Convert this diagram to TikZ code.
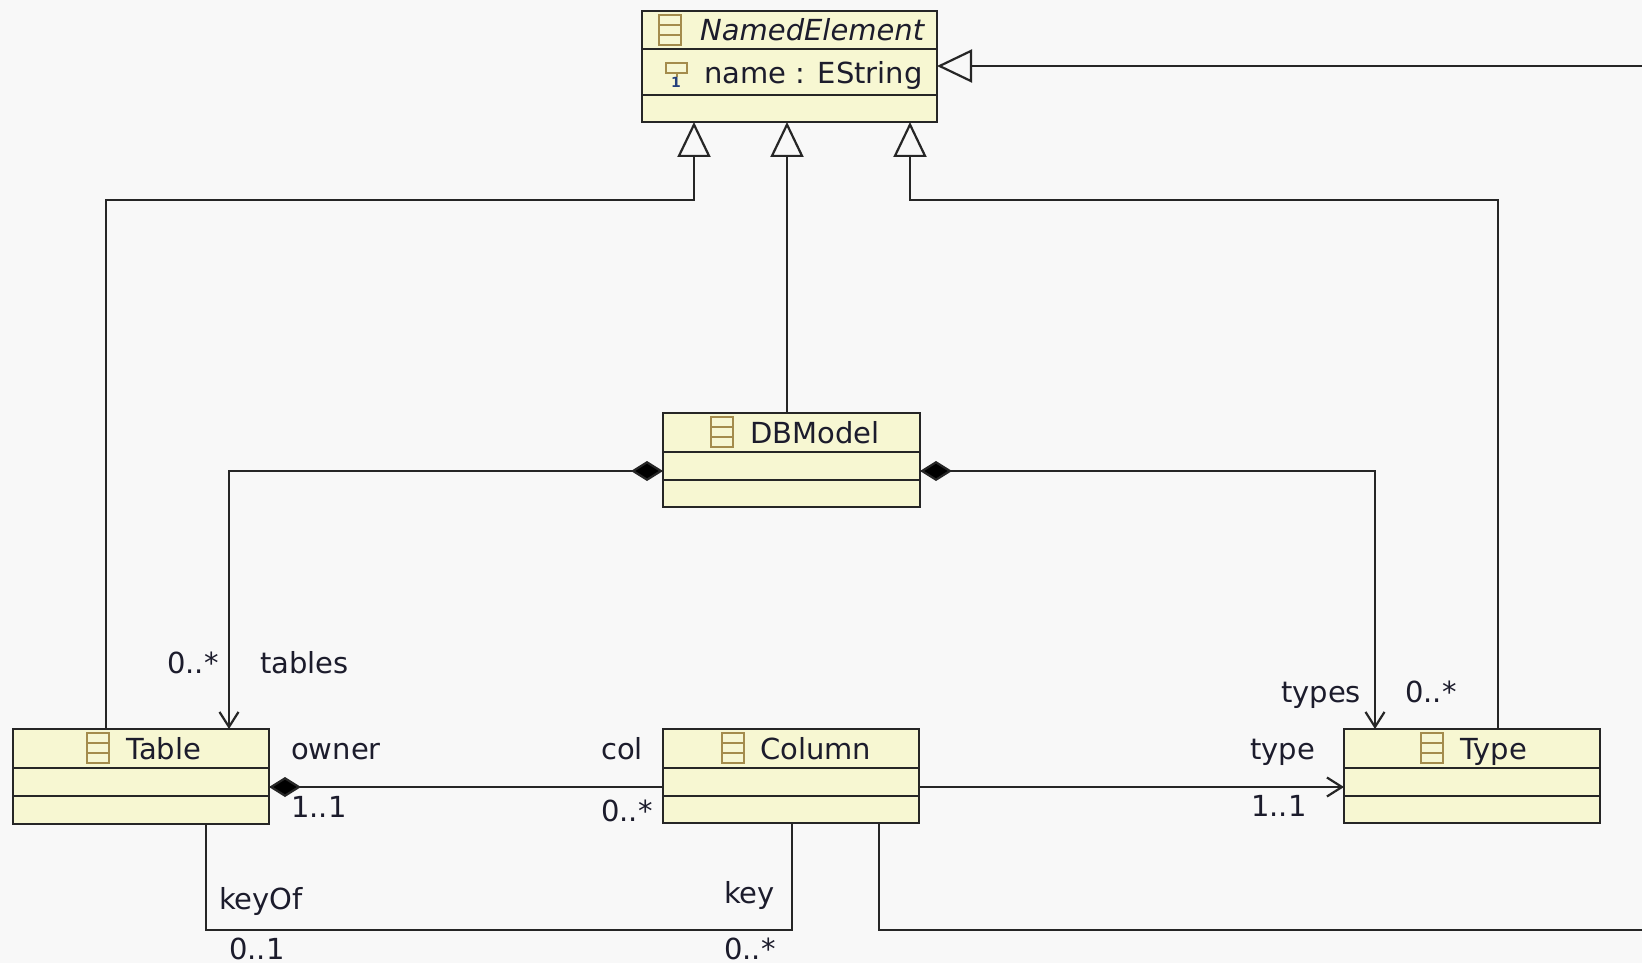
\documentclass[tikz,border=0pt]{standalone}
\usepackage{fontspec}
\setmainfont{DejaVu Sans}
\usetikzlibrary{arrows.meta}
\definecolor{canvas}{HTML}{F8F8F8}
\definecolor{classfill}{HTML}{F7F7D2}
\definecolor{ink}{HTML}{262626}
\definecolor{txt}{HTML}{1C1C2C}
\definecolor{gold}{HTML}{A48C4C}
\definecolor{blueone}{HTML}{24407C}
\tikzset{
  x=1pt,y=-1pt,
  umlbox/.style={draw=ink,fill=classfill,line width=2.4pt,rectangle,inner sep=0pt,outer sep=0pt,anchor=north west},
  conn/.style={draw=ink,line width=2.2pt},
  gen/.style={conn,-{Triangle[open,fill=canvas,length=35pt,width=33pt,line width=2.2pt]}},
  comp/.style={conn,{Diamond[length=32pt,width=20pt,fill=black]}-},
  compnav/.style={conn,{Diamond[length=32pt,width=20pt,fill=black]}-{Straight Barb[length=15pt,width=19pt,line width=2.2pt]}},
  nav/.style={conn,-{Straight Barb[length=15pt,width=19pt,line width=2.2pt]}},
  divider/.style={draw=ink,line width=2.2pt},
  lbl/.style={anchor=base west,inner sep=0pt,text=txt,font=\fontsize{29}{31}\selectfont},
  clsicon/.pic={
    \draw[gold,line width=2pt,fill=classfill] (0,0) rectangle (22,30);
    \draw[gold,line width=1.6pt] (0,10) -- (22,10) (0,20) -- (22,20);
  },
}
\begin{document}
\begin{tikzpicture}
\useasboundingbox (0,0) rectangle (1642,963);
\fill[canvas] (0,0) rectangle (1642,963);

% classes
\node[umlbox,minimum width=295pt,minimum height=111pt] (named) at (642,11) {};
\node[umlbox,minimum width=257pt,minimum height=94pt] (dbmodel) at (663,413) {};
\node[umlbox,minimum width=256pt,minimum height=95pt] (table) at (13,729) {};
\node[umlbox,minimum width=256pt,minimum height=94pt] (column) at (663,729) {};
\node[umlbox,minimum width=256pt,minimum height=94pt] (type) at (1344,729) {};

\draw[divider] ([yshift=-38pt]named.north west) -- ([yshift=-38pt]named.north east);
\draw[divider] ([yshift=-84pt]named.north west) -- ([yshift=-84pt]named.north east);
\draw[divider] ([yshift=-39pt]dbmodel.north west) -- ([yshift=-39pt]dbmodel.north east);
\draw[divider] ([yshift=-67pt]dbmodel.north west) -- ([yshift=-67pt]dbmodel.north east);
\foreach \c in {table,column,type}{
  \draw[divider] ([yshift=-39pt]\c.north west) -- ([yshift=-39pt]\c.north east);
  \draw[divider] ([yshift=-67pt]\c.north west) -- ([yshift=-67pt]\c.north east);
}

% icons
\pic at (659,15) {clsicon};
\pic at (711,417) {clsicon};
\pic at (87,733) {clsicon};
\pic at (722,733) {clsicon};
\pic at (1421,733) {clsicon};
\draw[gold,line width=2pt] (666,63) rectangle (687,73);
\draw[gold,line width=2pt] (676.5,73) -- (676.5,77);
\node[anchor=base,inner sep=0pt,text=blueone,font=\fontsize{14}{15}\bfseries\selectfont] (one) at (676,88) {1};

% class titles
\node[lbl,font=\fontsize{29}{31}\itshape\selectfont] (tnamed) at (700,41) {NamedElement};
\node[lbl] (tattr) at (704,84) {name : EString};
\node[lbl] (tdb) at (750,443) {DBModel};
\node[lbl] (ttable) at (126,759) {Table};
\node[lbl] (tcolumn) at (760,759) {Column};
\node[lbl] (ttype) at (1460,759) {Type};

% free ends
\coordinate (rtop) at (1642,66);
\coordinate (rbot) at (1642,930);

% generalisations
\draw[gen] ([xshift=93pt]table.north west) -- ++(0,-529) -- ++(588,0) -- ([xshift=52pt]named.south west);
\draw[gen] ([xshift=124pt]dbmodel.north west) -- ([xshift=145pt]named.south west);
\draw[gen] ([xshift=154pt]type.north west) -- ++(0,-529) -- ++(-588,0) -- ([xshift=268pt]named.south west);
\draw[gen] (rtop) -- ([yshift=-55pt]named.north east);

% compositions
\draw[compnav] ([yshift=-58pt]dbmodel.north west) -- ++(-434,0) -- ([xshift=216pt]table.north west);
\draw[compnav] ([yshift=-58pt]dbmodel.north east) -- ++(455,0) -- ([xshift=31pt]type.north west);
\draw[comp] ([yshift=-58pt]table.north east) -- ([yshift=-58pt]column.north west);

% other associations
\draw[nav] ([yshift=-58pt]column.north east) -- ([yshift=-58pt]type.north west);
\draw[conn] ([xshift=193pt]table.south west) -- ++(0,106) -- ++(586,0) -- ([xshift=129pt]column.south west);
\draw[conn] ([xshift=216pt]column.south west) -- ++(0,107) -- (rbot);

% end labels
\node[lbl] (l1) at (167,673) {0..*};
\node[lbl] (l2) at (260,673) {tables};
\node[lbl] (l3) at (291,759) {owner};
\node[lbl] (l4) at (291,817) {1..1};
\node[lbl] (l5) at (219,909) {keyOf};
\node[lbl] (l6) at (229,959) {0..1};
\node[lbl] (l7) at (601,759) {col};
\node[lbl] (l8) at (601,821) {0..*};
\node[lbl] (l9) at (724,903) {key};
\node[lbl] (l10) at (724,959) {0..*};
\node[lbl] (l11) at (1281,702) {types};
\node[lbl] (l12) at (1405,702) {0..*};
\node[lbl] (l13) at (1250,759) {type};
\node[lbl] (l14) at (1251,816) {1..1};
\end{tikzpicture}
\end{document}
